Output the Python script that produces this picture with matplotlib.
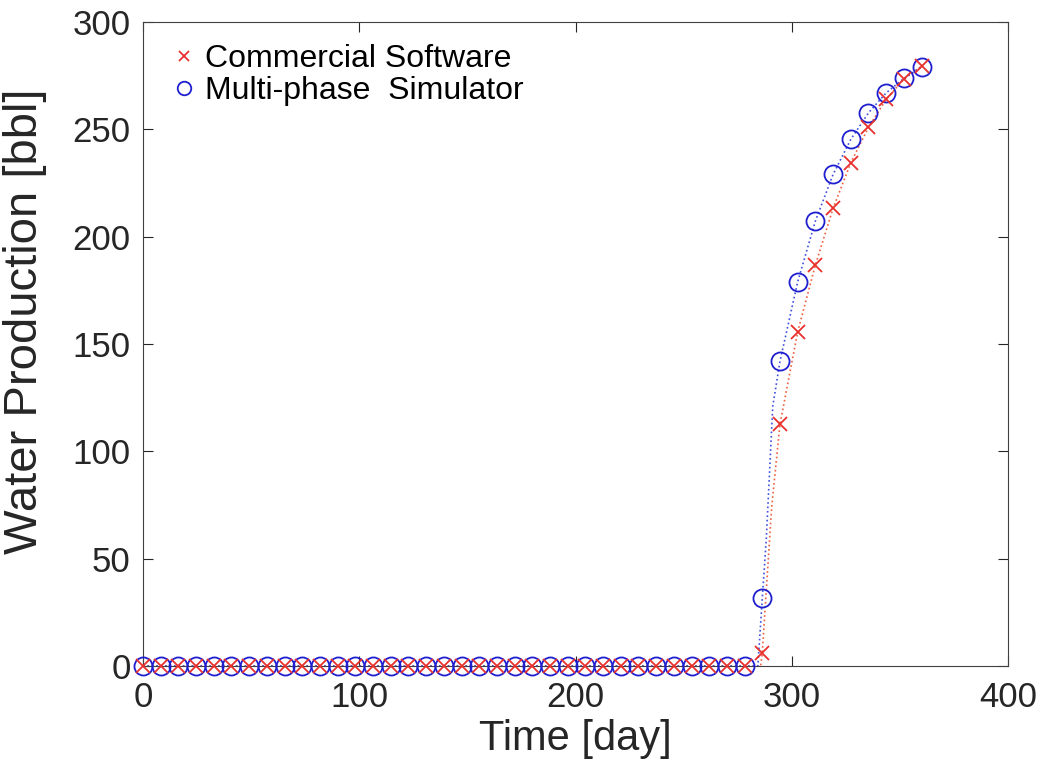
import matplotlib

matplotlib.use("Agg")
import matplotlib.pyplot as plt

plt.rcParams["font.family"] = ["Liberation Sans", "DejaVu Sans"]

# report times [day]
time_days = [
    0.0, 8.18, 16.36, 24.55, 32.73, 40.91, 49.09, 57.27, 65.45, 73.64,
    81.82, 90.0, 98.18, 106.36, 114.55, 122.73, 130.91, 139.09, 147.27, 155.45,
    163.64, 171.82, 180.0, 188.18, 196.36, 204.55, 212.73, 220.91, 229.09, 237.27,
    245.45, 253.64, 261.82, 270.0, 278.18, 286.36, 294.55, 302.73, 310.91, 319.09,
    327.27, 335.45, 343.64, 351.82, 360.0,
]

# water production [bbl] at the report times
commercial_wp = [0.0] * 35 + [6.2, 112.7, 155.7, 186.8, 213.2, 234.4, 250.9, 264.0, 273.4, 279.4]
simulator_wp = [0.0] * 35 + [31.5, 142.0, 179.0, 207.3, 229.0, 245.3, 257.7, 267.0, 273.7, 279.1]

# finer-resolution curves (dotted)
commercial_line_t = [0.0, 285.6, 286.36, 288.0, 290.7, 294.55, 302.73, 310.91, 319.09,
                     327.27, 335.45, 343.64, 351.82, 360.0]
commercial_line_wp = [0.0, 0.0, 6.2, 32.0, 74.0, 112.7, 155.7, 186.8, 213.2,
                      234.4, 250.9, 264.0, 273.4, 279.4]
simulator_line_t = [0.0, 284.3, 286.36, 288.2, 289.7, 291.2, 294.55, 302.73, 310.91,
                    319.09, 327.27, 335.45, 343.64, 351.82, 360.0]
simulator_line_wp = [0.0, 0.0, 31.5, 59.0, 90.0, 121.0, 142.0, 179.0, 207.3,
                     229.0, 245.3, 257.7, 267.0, 273.7, 279.1]

RED = "#e8302c"
BLUE = "#1f1fd0"
TXT = "#262626"

fig = plt.figure(figsize=(10.47, 7.76), dpi=100)
ax = fig.add_axes([0.1366, 0.1418, 0.8262, 0.8298])

ax.plot(commercial_line_t, commercial_line_wp, ":", color="#f06040", linewidth=1.2)
ax.plot(simulator_line_t, simulator_line_wp, ":", color="#4050e0", linewidth=1.2)

ax.plot(time_days, simulator_wp, "o", mfc="none", mec=BLUE, ms=13, mew=1.3,
        clip_on=False, label="Multi-phase  Simulator", zorder=3)
ax.plot(time_days, commercial_wp, "x", color=RED, ms=10, mew=1.3,
        clip_on=False, label="Commercial Software", zorder=4)

ax.set_xlim(0, 400)
ax.set_ylim(0, 300)
ax.set_xticks([0, 100, 200, 300, 400])
ax.set_yticks([0, 50, 100, 150, 200, 250, 300])

ax.tick_params(direction="in", length=7, width=0.8, top=True, right=True,
               labelsize=25, colors=TXT)
ax.tick_params(axis="x", pad=11)
ax.tick_params(axis="y", pad=9)
for s in ax.spines.values():
    s.set_color("#404040")
    s.set_linewidth(0.8)

ax.set_xlabel("Time [day]", fontsize=30, color=TXT)
ax.xaxis.set_label_coords(0.5, -0.083)
ax.set_ylabel("Water Production [bbl]", fontsize=34, color=TXT)
ax.yaxis.set_label_coords(-0.111, 0.535)

handles, labels = ax.get_legend_handles_labels()
ax.legend(handles[::-1], labels[::-1], loc="upper left", frameon=False,
          fontsize=23, markerscale=0.75, handlelength=0.8, handletextpad=0.25,
          borderaxespad=0.3, labelspacing=0.05, bbox_to_anchor=(0.007, 1.0))

fig.savefig("out.png", dpi=100)
